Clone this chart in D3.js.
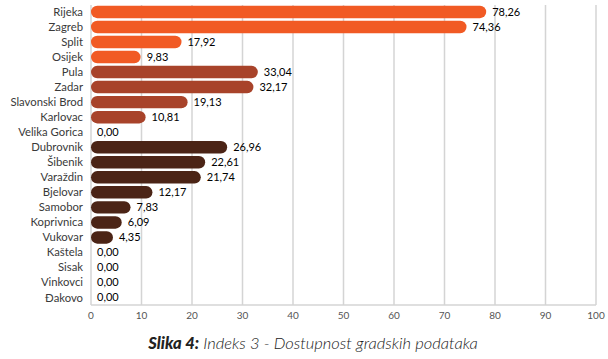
<!DOCTYPE html>
<html><head><meta charset="utf-8">
<script src="https://cdn.jsdelivr.net/npm/d3@7"></script>
<style>body{margin:0;background:#fff}svg{display:block}</style>
</head><body><svg id="c" width="608" height="359"></svg>
<script>
const cities = ["Rijeka","Zagreb","Split","Osijek","Pula","Zadar","Slavonski Brod","Karlovac","Velika Gorica","Dubrovnik","Šibenik","Varaždin","Bjelovar","Samobor","Koprivnica","Vukovar","Kaštela","Sisak","Vinkovci","Đakovo"];
const values = [78.26,74.36,17.92,9.83,33.04,32.17,19.13,10.81,0.00,26.96,22.61,21.74,12.17,7.83,6.09,4.35,0.00,0.00,0.00,0.00];
const groups = [0,0,0,0,1,1,1,1,1,2,2,2,2,2,2,2,2,2,2,2];
const groupColors = ["#F15A24","#A8432A","#4B2416"];
const ticks = [0,10,20,30,40,50,60,70,80,90,100];
const captionBold = "Slika 4:";
const captionText = " Indeks 3 - Dostupnost gradskih podataka";

const svg = d3.select("#c");
const x = d3.scaleLinear().domain([0,100]).range([91,596]);
const y = d3.scaleBand().domain(cities).range([4.5,305]).paddingInner(0.17).paddingOuter(0.08);
const font = "Lato, 'Open Sans', sans-serif";

// gridlines
svg.append("g").selectAll("line").data(ticks).join("line")
  .attr("x1",d=>x(d)).attr("x2",d=>x(d)).attr("y1",5).attr("y2",305)
  .attr("stroke","#d4d4d4").attr("stroke-width",1.5);
svg.append("line").attr("x1",x(0)).attr("x2",x(100)).attr("y1",305).attr("y2",305)
  .attr("stroke","#d4d4d4").attr("stroke-width",1.5);

// tick labels
svg.append("g").selectAll("text").data(ticks).join("text")
  .attr("x",d=>x(d)).attr("y",319).attr("text-anchor","middle")
  .attr("font-family",font).attr("font-size",10).attr("fill","#555")
  .text(d=>d);

// bars
const bh = y.bandwidth();
svg.append("g").selectAll("rect").data(cities).join("rect")
  .attr("x",x(0)).attr("y",d=>y(d))
  .attr("width",(d,i)=>Math.max(0,x(values[i])-x(0)))
  .attr("height",bh).attr("rx",bh/2).attr("ry",bh/2)
  .attr("fill",(d,i)=>groupColors[groups[i]]);

// category labels
svg.append("g").selectAll("text").data(cities).join("text")
  .attr("x",83).attr("y",d=>y(d)+bh/2).attr("dy","0.35em")
  .attr("text-anchor","end").attr("font-family",font).attr("font-size",11.3)
  .attr("fill","#3a3a3a").text(d=>d);

// value labels
svg.append("g").selectAll("text").data(cities).join("text")
  .attr("x",(d,i)=>x(values[i])+6).attr("y",d=>y(d)+bh/2).attr("dy","0.35em")
  .attr("font-family",font).attr("font-size",11).attr("fill","#000")
  .text((d,i)=>values[i].toFixed(2).replace(".",","));

// caption
const cap = svg.append("text").attr("x",313).attr("y",349).attr("text-anchor","middle")
  .attr("font-family",font).attr("font-size",16.5).attr("font-style","italic").attr("fill","#222");
cap.append("tspan").attr("font-weight","900").text(captionBold);
cap.append("tspan").attr("font-weight","300").text(captionText);
</script></body></html>
